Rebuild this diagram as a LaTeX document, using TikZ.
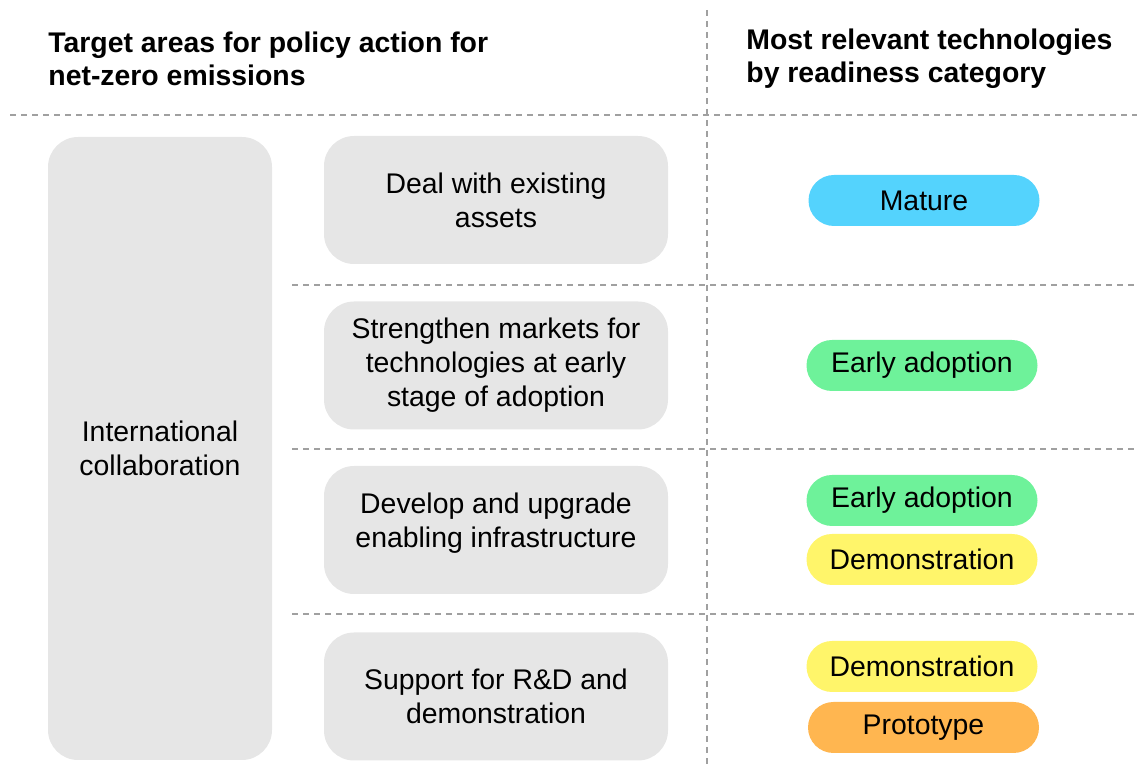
\documentclass[tikz,border=0pt]{standalone}
\usepackage{fontspec}
\setmainfont{Liberation Sans}
\usetikzlibrary{positioning}
\definecolor{boxgrey}{RGB}{230,230,230}
\definecolor{rulegrey}{RGB}{160,160,160}
\definecolor{matureblue}{RGB}{84,211,253}
\definecolor{earlygreen}{RGB}{110,242,154}
\definecolor{demoyellow}{RGB}{255,245,106}
\definecolor{protoorange}{RGB}{255,182,80}

\begin{document}
\begin{tikzpicture}[x=0.5pt,y=-0.5pt,
 every node/.style={font=\fontsize{14.2}{17}\selectfont},
 head/.style={font=\fontsize{14.2}{16.5}\selectfont\bfseries,align=left,anchor=west,inner sep=0pt},
 area/.style={fill=boxgrey,rounded corners=15pt,minimum width=172pt,minimum height=64pt,align=center},
 pill/.style={rounded corners=12.75pt,minimum width=115.5pt,minimum height=25.5pt,inner sep=0pt},
 sep/.style={rulegrey,line width=1pt,dash pattern=on 3pt off 2.5pt}]
\useasboundingbox (0,0) rectangle (1137,769);
% headings
\node[head] (hl) at (48,58.5) {Target areas for policy action for\\net-zero emissions};
\node[head] (hr) at (746,58.5) {Most relevant technologies\\by readiness category};
% separators
\draw[sep] (10,115) -- (1137,115);
\draw[sep] (707,10) -- (707,769);
\foreach \y in {285,449,614}
 \draw[sep] (292,\y) -- (1137,\y);
% left column
\node[fill=boxgrey,rounded corners=15pt,minimum width=112pt,minimum height=311.5pt,align=center]
 (intl) at (160,448.5) {International\\collaboration};
% target areas
\node[area] (assets) at (496,200) {Deal with existing\\assets};
\node[area] (markets) at (496,365.5) {Strengthen markets for\\technologies at early\\stage of adoption};
\node[area] (infra) at (496,530) {};
\node[align=center] (infratext) at (496,523) {Develop and upgrade\\enabling infrastructure};
\node[area] (rnd) at (496,696.5) {Support for R\&D and\\demonstration};
% readiness categories
\node[pill,fill=matureblue] (mature) at (924,200.5) {Mature};
\node[pill,fill=earlygreen] (early1) at (922,365.5) {Early adoption};
\node[pill,fill=earlygreen] (early2) at (922,500.5) {Early adoption};
\node[pill,fill=demoyellow] (demo1) at (922,559.5) {Demonstration};
\node[pill,fill=demoyellow] (demo2) at (922,666.5) {Demonstration};
\node[pill,fill=protoorange] (proto) at (923.5,727.5) {Prototype};
\end{tikzpicture}
\end{document}
